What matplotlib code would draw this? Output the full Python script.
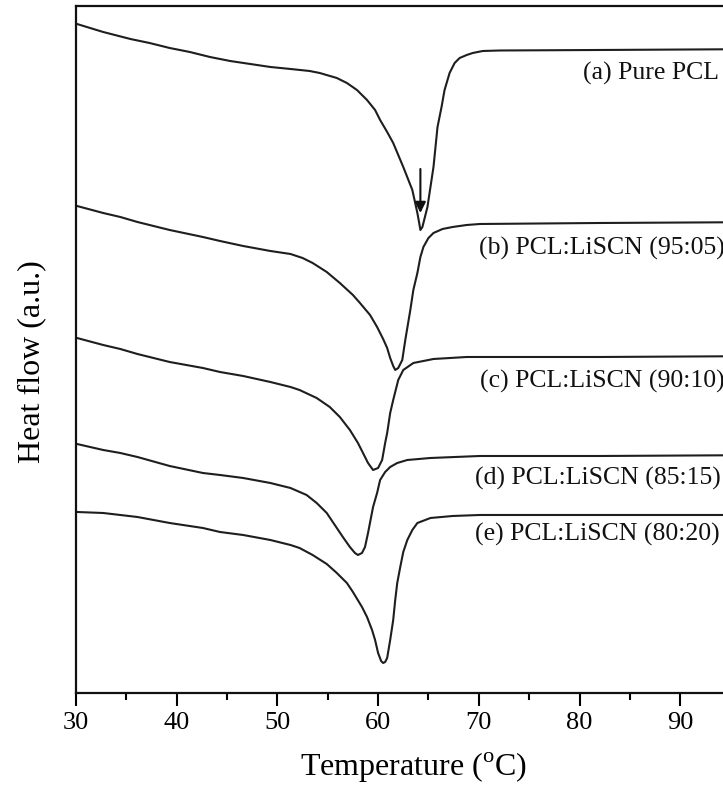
import matplotlib
matplotlib.use("Agg")
import matplotlib.pyplot as plt

plt.rcParams['font.family'] = ['Liberation Serif', 'DejaVu Serif']
plt.rcParams['mathtext.fontset'] = 'custom'
plt.rcParams['mathtext.rm'] = 'Liberation Serif'

# DSC heating traces (temperature in degC, heat flow in a.u.)
t_a = [30.1, 32.7, 35.4, 37.3, 39.3, 41.3, 43.3, 45.3, 47.3, 49.3, 51.3, 53.2,
       54.2, 55.9, 56.9, 57.9, 58.9, 59.7, 60.2, 60.9, 61.5, 62.5, 63.4, 63.9,
       64.1, 64.2, 64.4, 64.5, 64.9, 65.2, 65.5, 65.7, 65.9, 66.3, 66.6, 67.1,
       67.6, 68.1, 68.8, 69.4, 70.4, 72.1, 82.0, 100.0]
hf_a = [6.69, 6.61, 6.54, 6.50, 6.45, 6.41, 6.36, 6.32, 6.29, 6.26, 6.24, 6.22,
        6.20, 6.15, 6.10, 6.03, 5.93, 5.83, 5.73, 5.61, 5.50, 5.26, 5.03, 4.80,
        4.69, 4.63, 4.66, 4.70, 4.86, 5.06, 5.26, 5.46, 5.66, 5.86, 6.03, 6.20,
        6.30, 6.35, 6.38, 6.40, 6.42, 6.425, 6.43, 6.44]

t_b = [30.1, 32.7, 34.4, 36.1, 39.3, 42.6, 44.3, 46.6, 49.3, 51.3, 52.5, 53.5,
       54.9, 56.2, 57.5, 58.2, 59.2, 59.9, 60.5, 60.9, 61.2, 61.5, 61.7, 62.0,
       62.4, 62.7, 63.2, 63.5, 63.9, 64.2, 64.5, 65.0, 65.5, 66.4, 67.4, 68.8,
       70.1, 82.0, 100.0]
hf_b = [4.87, 4.80, 4.76, 4.71, 4.63, 4.56, 4.52, 4.47, 4.42, 4.39, 4.35, 4.30,
        4.21, 4.10, 3.98, 3.90, 3.78, 3.66, 3.54, 3.45, 3.35, 3.27, 3.23, 3.25,
        3.33, 3.53, 3.83, 4.03, 4.20, 4.36, 4.46, 4.55, 4.60, 4.64, 4.66, 4.68,
        4.69, 4.70, 4.71]

t_c = [30.1, 32.7, 34.4, 36.1, 39.3, 42.6, 44.3, 46.6, 49.3, 51.3, 52.2, 53.9,
       55.2, 56.2, 57.2, 58.0, 58.5, 59.0, 59.5, 60.0, 60.4, 60.7, 60.9, 61.2,
       61.5, 62.0, 62.5, 63.5, 65.5, 68.8, 82.0, 100.0]
hf_c = [3.55, 3.48, 3.44, 3.39, 3.31, 3.25, 3.21, 3.17, 3.11, 3.06, 3.03, 2.95,
        2.86, 2.76, 2.63, 2.50, 2.40, 2.30, 2.23, 2.25, 2.33, 2.50, 2.60, 2.80,
        2.93, 3.13, 3.23, 3.30, 3.34, 3.36, 3.36, 3.37]

t_d = [30.1, 32.7, 34.4, 36.1, 39.3, 42.6, 44.3, 46.6, 49.3, 51.3, 52.9, 53.9,
       54.9, 55.7, 56.5, 57.2, 57.7, 58.0, 58.4, 58.7, 59.0, 59.5, 59.9, 60.2,
       60.7, 61.2, 61.9, 62.9, 65.2, 70.1, 82.0, 100.0]
hf_d = [2.49, 2.43, 2.40, 2.36, 2.27, 2.20, 2.18, 2.15, 2.10, 2.05, 1.98, 1.90,
        1.80, 1.68, 1.56, 1.46, 1.40, 1.38, 1.40, 1.46, 1.60, 1.86, 2.00, 2.13,
        2.21, 2.26, 2.30, 2.33, 2.35, 2.37, 2.37, 2.38]

t_e = [30.1, 32.7, 34.4, 36.1, 39.3, 42.6, 44.3, 46.6, 49.3, 51.3, 52.2, 53.5,
       54.9, 55.9, 56.9, 57.5, 58.4, 58.9, 59.4, 59.7, 60.0, 60.3, 60.5, 60.7,
       60.9, 61.2, 61.5, 61.7, 61.9, 62.2, 62.5, 62.9, 63.4, 63.9, 65.2, 67.4,
       70.1, 82.0, 100.0]
hf_e = [1.81, 1.80, 1.78, 1.76, 1.70, 1.65, 1.61, 1.58, 1.53, 1.48, 1.45, 1.38,
        1.29, 1.20, 1.10, 1.01, 0.86, 0.76, 0.63, 0.53, 0.40, 0.32, 0.30, 0.31,
        0.35, 0.53, 0.73, 0.93, 1.10, 1.26, 1.41, 1.53, 1.63, 1.70, 1.75, 1.77,
        1.78, 1.78, 1.78]

labels = ['(a) Pure PCL', '(b) PCL:LiSCN (95:05)', '(c) PCL:LiSCN (90:10)',
          '(d) PCL:LiSCN (85:15)', '(e) PCL:LiSCN (80:20)']
label_x = [80.35, 70.0, 70.1, 69.6, 69.6]
label_y = [6.20, 4.45, 3.12, 2.15, 1.59]

fig = plt.figure(figsize=(7.23, 7.91), dpi=100)
# axes run on past the right edge of the picture (it was cropped)
ax = fig.add_axes([0.1051, 0.1239, 0.975, 0.8679])

line_col = '#1e1e1e'
for t, hf in [(t_a, hf_a), (t_b, hf_b), (t_c, hf_c), (t_d, hf_d), (t_e, hf_e)]:
    ax.plot(t, hf, color=line_col, lw=1.5, solid_joinstyle='round')

for lab, x, y in zip(labels, label_x, label_y):
    ax.text(x, y, lab, ha='left', va='center', fontsize=18.5, color='#111111')

# melting peak marker on curve (a)
ax.annotate('', xy=(64.2, 4.80), xytext=(64.2, 5.24),
            arrowprops=dict(arrowstyle='-|>', color='#111111', lw=1.5,
                            mutation_scale=16, shrinkA=0, shrinkB=0))

ax.set_xlim(30, 100)
ax.set_ylim(0, 6.865)
ax.set_xticks([30, 40, 50, 60, 70, 80, 90])
ax.set_xticks([35, 45, 55, 65, 75, 85, 95], minor=True)
ax.set_yticks([])
ax.tick_params(axis='x', which='major', direction='out', length=9.5, width=1.5,
               labelsize=19, pad=4)
ax.tick_params(axis='x', which='minor', direction='out', length=5, width=1.5)
for s in ax.spines.values():
    s.set_linewidth(1.6)
    s.set_color('#111111')

ax.set_xlabel('Temperature ($^\\mathrm{o}$C)', fontsize=23)
ax.xaxis.set_label_coords(0.479, -0.109)
ax.xaxis.label.set_va('center')
ax.set_ylabel('Heat flow (a.u.)', fontsize=23)
ax.yaxis.set_label_coords(-0.063, 0.482)
ax.yaxis.label.set_va('center')

fig.savefig('out.png', dpi=100, facecolor='white')
